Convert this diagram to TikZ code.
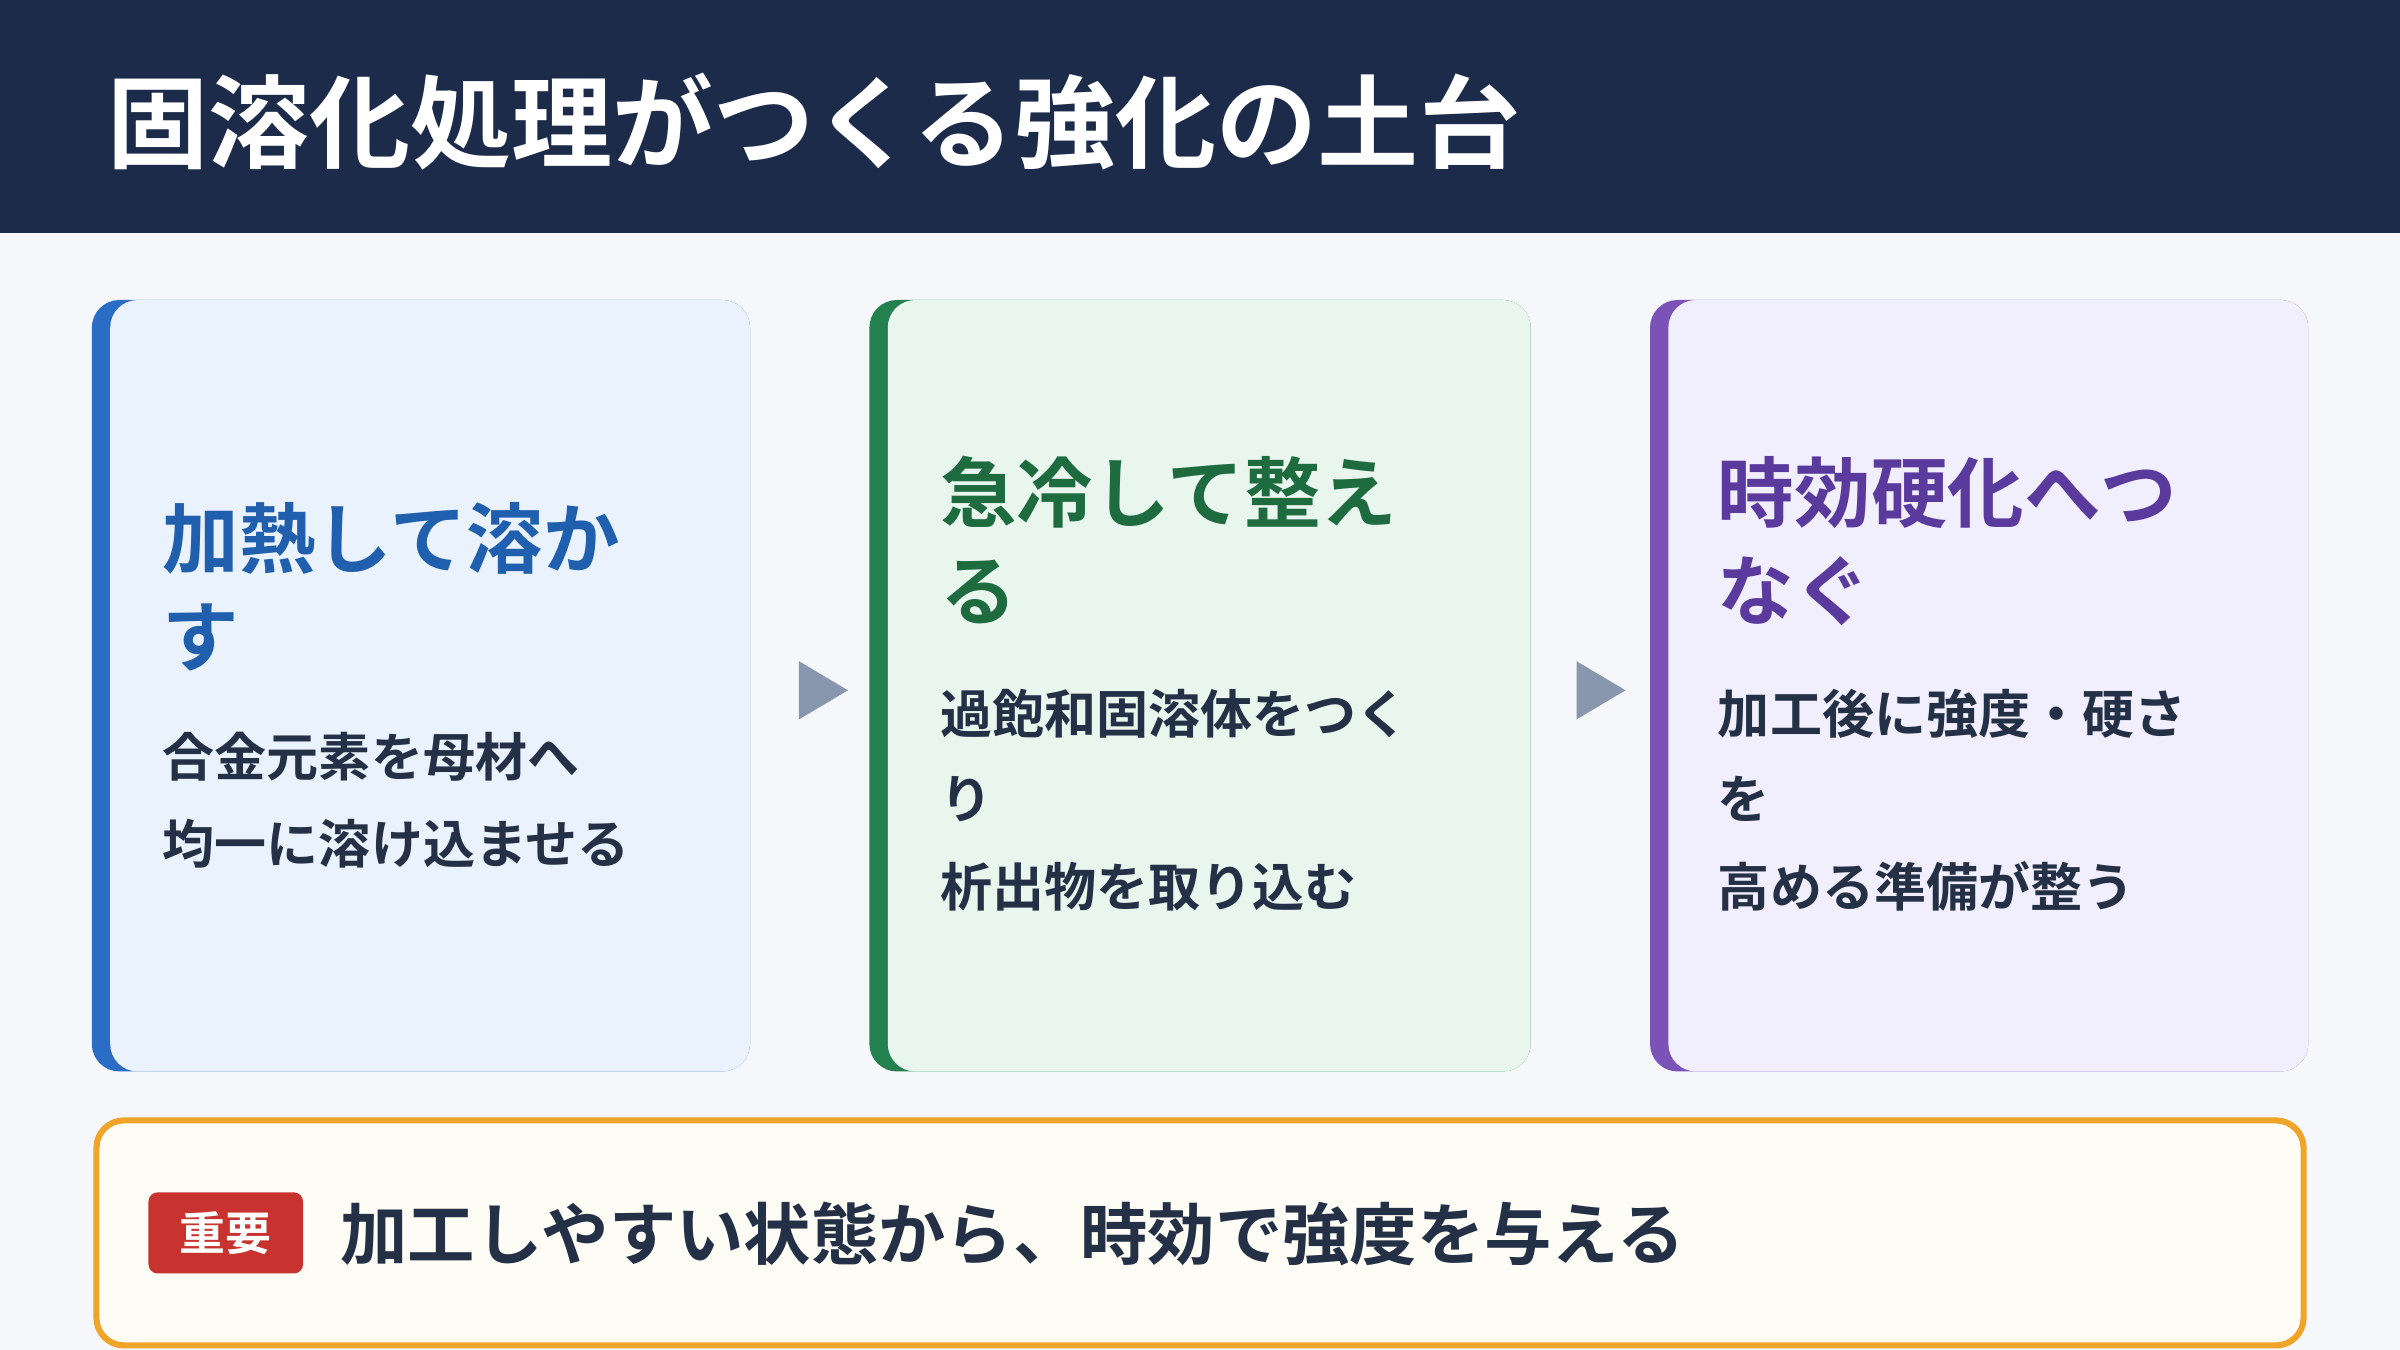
\documentclass[tikz,border=0pt]{standalone}
\usepackage{fontspec}
\setmainfont{Noto Sans CJK JP}
\newfontfamily\jpbold{Noto Sans CJK JP Bold}
\definecolor{navy}{HTML}{1C2B4A}
\definecolor{paper}{HTML}{F5F7FB}
\definecolor{ink}{HTML}{243046}
\definecolor{blueBar}{HTML}{2B6CC4}
\definecolor{blueFill}{HTML}{EAF2FE}
\definecolor{blueText}{HTML}{1F5FAD}
\definecolor{greenBar}{HTML}{23804F}
\definecolor{greenFill}{HTML}{E9F6EE}
\definecolor{greenText}{HTML}{1E6B40}
\definecolor{purpleBar}{HTML}{7B52B8}
\definecolor{purpleFill}{HTML}{F1EEFD}
\definecolor{purpleText}{HTML}{5B3A9E}
\definecolor{arrowGray}{HTML}{8896AE}
\definecolor{noteBorder}{HTML}{F0A52A}
\definecolor{noteFill}{HTML}{FDFCF5}
\definecolor{badgeRed}{HTML}{C8322F}
\tikzset{
  head/.style={anchor=base west, inner sep=0pt, font=\jpbold\fontsize{25}{25}\selectfont},
  body/.style={anchor=base west, inner sep=0pt, text=ink, font=\jpbold\fontsize{17}{17}\selectfont},
  flowtip/.style={fill=arrowGray, draw=none}
}
\begin{document}
\begin{tikzpicture}[x=0.5pt, y=-0.5pt]
  \useasboundingbox (0,0) rectangle (1568,882);
  \fill[paper] (0,0) rectangle (1568,882);
  % header
  \fill[navy] (0,0) rectangle (1568,152);
  \node[anchor=base west, inner sep=0pt, text=white, font=\jpbold\fontsize{33}{33}\selectfont] (title) at (70,105) {固溶化処理がつくる強化の土台};

  % cards
  \fill[blueBar, rounded corners=9pt] (60,196) rectangle (490,700);
  \fill[blueFill, rounded corners=9pt] (72,196) rectangle (490,700);
  \fill[greenBar, rounded corners=9pt] (568,196) rectangle (1000,700);
  \fill[greenFill, rounded corners=9pt] (580,196) rectangle (1000,700);
  \fill[purpleBar, rounded corners=9pt] (1078,196) rectangle (1508,700);
  \fill[purpleFill, rounded corners=9pt] (1090,196) rectangle (1508,700);

  % card 1
  \node[head, text=blueText] (h1a) at (106,371) {加熱して溶か};
  \node[head, text=blueText] (h1b) at (106,435) {す};
  \node[body] (b1a) at (106,507) {合金元素を母材へ};
  \node[body] (b1b) at (106,564) {均一に溶け込ませる};
  % card 2
  \node[head, text=greenText] (h2a) at (614,341) {急冷して整え};
  \node[head, text=greenText] (h2b) at (614,405) {る};
  \node[body] (b2a) at (614,479) {過飽和固溶体をつく};
  \node[body] (b2b) at (614,535) {り};
  \node[body] (b2c) at (614,592) {析出物を取り込む};
  % card 3
  \node[head, text=purpleText] (h3a) at (1122,341) {時効硬化へつ};
  \node[head, text=purpleText] (h3b) at (1122,405) {なぐ};
  \node[body] (b3a) at (1122,479) {加工後に強度・硬さ};
  \node[body] (b3b) at (1122,535) {を};
  \node[body] (b3c) at (1122,592) {高める準備が整う};

  % arrows
  \fill[flowtip] (522,432) -- (554,451) -- (522,470) -- cycle;
  \fill[flowtip] (1030,432) -- (1062,451) -- (1030,470) -- cycle;

  % note
  \draw[noteBorder, line width=2pt, fill=noteFill, rounded corners=9pt] (63,732) rectangle (1505,879);
  \node[fill=badgeRed, text=white, rounded corners=3pt, minimum width=50.5pt, minimum height=26.5pt, inner sep=0pt, font=\jpbold\fontsize{15}{15}\selectfont] (badge) at (147.5,805.5) {重要};
  \node[anchor=west, inner sep=0pt, text=ink, font=\jpbold\fontsize{22}{22}\selectfont] (note) at (222,806) {加工しやすい状態から、時効で強度を与える};
\end{tikzpicture}
\end{document}
